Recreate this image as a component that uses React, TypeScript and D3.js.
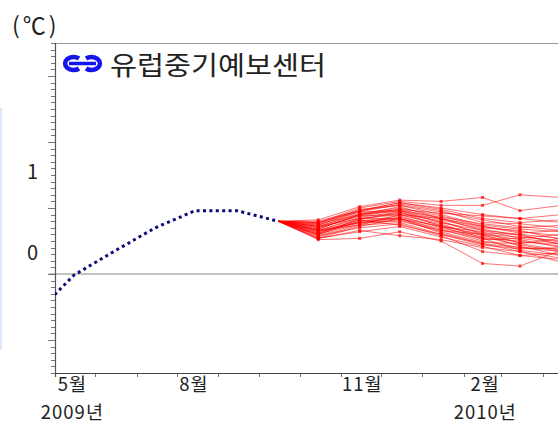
import React, { useEffect, useRef } from 'react';
import * as d3 from 'd3';

// observed anomaly (monthly, mid-month)
const obsDates = ['2009-03-15', '2009-04-15', '2009-05-15', '2009-06-15', '2009-07-15', '2009-08-15', '2009-09-15'];
const obsValues = [-0.33, -0.01, 0.17, 0.35, 0.48, 0.48, 0.40];

// ensemble forecast months
const fcDates = ['2009-10-15', '2009-11-15', '2009-12-15', '2010-01-15', '2010-02-15', '2010-03-15', '2010-04-15'];
const members = [
  [0.41, 0.51, 0.56, 0.55, 0.58, 0.48, 0.52],
  [0.39, 0.50, 0.55, 0.52, 0.52, 0.60, 0.58],
  [0.40, 0.48, 0.54, 0.50, 0.45, 0.42, 0.45],
  [0.38, 0.49, 0.52, 0.47, 0.41, 0.36, 0.33],
  [0.39, 0.47, 0.53, 0.48, 0.39, 0.38, 0.35],
  [0.37, 0.48, 0.52, 0.45, 0.37, 0.34, 0.32],
  [0.36, 0.46, 0.50, 0.44, 0.36, 0.32, 0.29],
  [0.36, 0.45, 0.51, 0.42, 0.35, 0.33, 0.26],
  [0.38, 0.45, 0.49, 0.42, 0.33, 0.30, 0.27],
  [0.35, 0.44, 0.48, 0.41, 0.34, 0.29, 0.24],
  [0.34, 0.45, 0.48, 0.39, 0.33, 0.27, 0.30],
  [0.33, 0.43, 0.47, 0.39, 0.31, 0.30, 0.22],
  [0.36, 0.42, 0.46, 0.40, 0.30, 0.26, 0.20],
  [0.33, 0.42, 0.45, 0.37, 0.29, 0.24, 0.23],
  [0.32, 0.41, 0.47, 0.36, 0.32, 0.23, 0.18],
  [0.35, 0.44, 0.45, 0.38, 0.27, 0.25, 0.21],
  [0.31, 0.40, 0.44, 0.35, 0.28, 0.22, 0.17],
  [0.33, 0.39, 0.43, 0.36, 0.26, 0.27, 0.23],
  [0.30, 0.42, 0.42, 0.33, 0.30, 0.21, 0.14],
  [0.30, 0.39, 0.42, 0.34, 0.25, 0.20, 0.19],
  [0.29, 0.38, 0.41, 0.32, 0.24, 0.23, 0.27],
  [0.32, 0.39, 0.40, 0.33, 0.27, 0.18, 0.14],
  [0.28, 0.37, 0.39, 0.30, 0.23, 0.20, 0.17],
  [0.27, 0.36, 0.42, 0.31, 0.23, 0.17, 0.12],
  [0.31, 0.41, 0.37, 0.30, 0.22, 0.19, 0.20],
  [0.27, 0.32, 0.36, 0.28, 0.21, 0.14, 0.11],
  [0.29, 0.35, 0.38, 0.29, 0.17, 0.14, 0.16],
  [0.26, 0.27, 0.32, 0.25, 0.08, 0.06, 0.18],
  [0.27, 0.33, 0.29, 0.26, 0.20, 0.17, 0.09],
  [0.34, 0.45, 0.49, 0.46, 0.44, 0.42, 0.39],
  [0.33, 0.37, 0.45, 0.42, 0.36, 0.31, 0.33],
  [0.37, 0.47, 0.48, 0.43, 0.38, 0.35, 0.37],
  [0.30, 0.40, 0.42, 0.36, 0.30, 0.28, 0.25],
  [0.39, 0.48, 0.54, 0.49, 0.42, 0.39, 0.41],
];

// axis labels
const monthLabels = ['5월', '8월', '11월', '2월'];
const monthLabelDates = ['2009-04-14', '2009-07-14', '2009-11-17', '2010-02-17'];
const yearLabels = ['2009년', '2010년'];
const yearLabelDates = ['2009-04-14', '2010-02-17'];
const yLabels = ['1', '0'];
const yLabelValues = [1, 0];

const title = '유럽중기예보센터';
const unitLabel = '(℃)';

const FONT = "'Noto Sans CJK KR', 'Noto Sans', sans-serif";

const App = () => {
  const ref = useRef(null);
  const width = 558;
  const height = 425;
  const plot = { left: 55, top: 43, bottom: 373, right: 558 };

  useEffect(() => {
    const parse = d3.timeParse('%Y-%m-%d');
    const svg = d3.select(ref.current);
    svg.selectAll('*').remove();

    const x = d3.scaleTime()
      .domain([parse('2009-04-01'), parse('2010-04-01')])
      .range([plot.left, 542.7]);

    const y = d3.scaleLinear()
      .domain([-0.75, 1.75])
      .range([plot.bottom, plot.top]);

    // labels of the y axis sit on their own scale in the source image
    const yLab = d3.scaleLinear().domain([0, 1]).range([253, 172]);

    // faint strip on the left edge
    svg.append('rect')
      .attr('x', 0).attr('y', 108).attr('width', 2).attr('height', 242)
      .attr('fill', '#dce9f8');

    svg.append('defs').append('clipPath').attr('id', 'plotclip')
      .append('rect')
      .attr('x', plot.left).attr('y', plot.top)
      .attr('width', plot.right - plot.left).attr('height', plot.bottom - plot.top);

    // top frame
    svg.append('line')
      .attr('x1', plot.left).attr('x2', plot.right)
      .attr('y1', plot.top + 0.5).attr('y2', plot.top + 0.5)
      .attr('stroke', '#999');

    // zero line
    svg.append('line')
      .attr('x1', 49).attr('x2', plot.right)
      .attr('y1', y(0)).attr('y2', y(0))
      .attr('stroke', '#c2c2c2').attr('stroke-width', 2);

    // y ticks
    const minor = d3.range(-15, 36).map(i => i * 0.05);
    svg.append('g').selectAll('line')
      .data(minor)
      .join('line')
      .attr('x1', (d, i) => ((i + 5) % 10 === 0 ? plot.left - 7 : plot.left - 4))
      .attr('x2', plot.left)
      .attr('y1', d => Math.round(y(d)) + 0.5)
      .attr('y2', d => Math.round(y(d)) + 0.5)
      .attr('stroke', '#777');

    // x ticks
    const months = d3.timeMonth.range(parse('2009-04-01'), parse('2010-04-02'));
    svg.append('g').selectAll('line')
      .data(months)
      .join('line')
      .attr('x1', d => Math.round(x(d)) + 0.5)
      .attr('x2', d => Math.round(x(d)) + 0.5)
      .attr('y1', plot.bottom)
      .attr('y2', plot.bottom + 4)
      .attr('stroke', '#777');

    // axis lines
    svg.append('line')
      .attr('x1', plot.left + 0.5).attr('x2', plot.left + 0.5)
      .attr('y1', plot.top).attr('y2', plot.bottom + 4)
      .attr('stroke', '#555').attr('stroke-width', 1.2);
    svg.append('line')
      .attr('x1', plot.left).attr('x2', plot.right)
      .attr('y1', plot.bottom + 0.5).attr('y2', plot.bottom + 0.5)
      .attr('stroke', '#444').attr('stroke-width', 1.2);

    const g = svg.append('g').attr('clip-path', 'url(#plotclip)');

    const line = d3.line()
      .x(d => x(d.date))
      .y(d => y(d.v));

    const lastObs = { date: parse(obsDates[obsDates.length - 1]), v: obsValues[obsValues.length - 1] };

    // ensemble members
    members.forEach(m => {
      const pts = [lastObs, ...m.map((v, i) => ({ date: parse(fcDates[i]), v }))];
      g.append('path')
        .datum(pts)
        .attr('d', line)
        .attr('fill', 'none')
        .attr('stroke', '#ff0000')
        .attr('stroke-opacity', 0.55)
        .attr('stroke-width', 1);
      g.append('g').selectAll('rect')
        .data(pts.slice(1))
        .join('rect')
        .attr('x', d => x(d.date) - 1.5)
        .attr('y', d => y(d.v) - 1.5)
        .attr('width', 3)
        .attr('height', 3)
        .attr('fill', '#ff0000')
        .attr('fill-opacity', 0.7);
    });

    // observations
    const obs = obsDates.map((d, i) => ({ date: parse(d), v: obsValues[i] }));
    g.append('path')
      .datum(obs)
      .attr('d', line)
      .attr('fill', 'none')
      .attr('stroke', '#0a0a78')
      .attr('stroke-width', 3)
      .attr('stroke-dasharray', '3 3.4');

    // y labels
    svg.append('g').selectAll('text')
      .data(yLabels)
      .join('text')
      .attr('x', 38)
      .attr('y', (d, i) => yLab(yLabelValues[i]))
      .attr('dy', '0.35em')
      .attr('text-anchor', 'end')
      .attr('font-family', FONT)
      .attr('font-size', 20)
      .attr('fill', '#222')
      .text(d => d);

    // x labels
    svg.append('g').selectAll('text')
      .data(monthLabels)
      .join('text')
      .attr('x', (d, i) => x(parse(monthLabelDates[i])))
      .attr('y', 391)
      .attr('text-anchor', 'middle')
      .attr('font-family', FONT)
      .attr('font-size', 18.5)
      .attr('letter-spacing', 1)
      .attr('fill', '#222')
      .text(d => d);
    svg.append('g').selectAll('text')
      .data(yearLabels)
      .join('text')
      .attr('x', (d, i) => x(parse(yearLabelDates[i])))
      .attr('y', 419)
      .attr('text-anchor', 'middle')
      .attr('font-family', FONT)
      .attr('font-size', 18.5)
      .attr('letter-spacing', 1)
      .attr('fill', '#222')
      .text(d => d);

    // unit
    svg.append('text')
      .attr('x', 12).attr('y', 34)
      .attr('font-family', FONT)
      .attr('font-size', 23)
      .attr('letter-spacing', 3)
      .attr('fill', '#222')
      .text(unitLabel);

    // ECMWF logo
    const logo = svg.append('g')
      .attr('fill', 'none')
      .attr('stroke', '#1414ee')
      .attr('stroke-width', 4.5);
    logo.append('path').attr('d', 'M79,58.5 A8.5,6.5 0 1 0 79,68.5');
    logo.append('path').attr('d', 'M86,58.5 A8.5,6.5 0 1 1 86,68.5');
    logo.append('path').attr('d', 'M69,63.5 H96').attr('stroke-width', 3.5);

    // title
    svg.append('text')
      .attr('x', 110).attr('y', 75)
      .attr('font-family', FONT)
      .attr('font-size', 26)
      .attr('textLength', 216)
      .attr('lengthAdjust', 'spacingAndGlyphs')
      .attr('fill', '#222')
      .text(title);
  }, []);

  return (
    <svg
      ref={ref}
      width={width}
      height={height}
      style={{ position: 'absolute', left: 0, top: 0, background: '#fff' }}
    />
  );
};

export default App;
